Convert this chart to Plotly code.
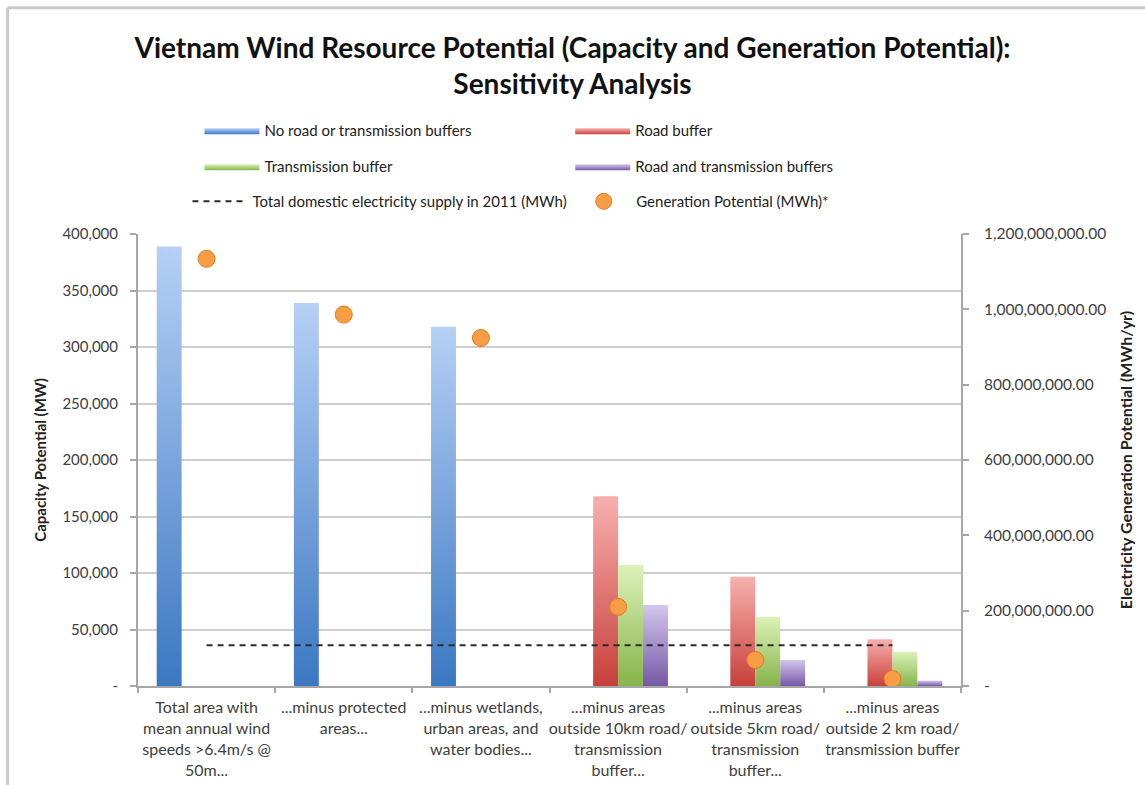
import plotly.graph_objects as go

# ---- data ---------------------------------------------------------------
categories = [
    "Total area with<br>mean annual wind<br>speeds >6.4m/s @<br>50m...",
    "...minus protected<br>areas...",
    "...minus wetlands,<br>urban areas, and<br>water bodies...",
    "...minus areas<br>outside 10km road/<br>transmission<br>buffer...",
    "...minus areas<br>outside 5km road/<br>transmission<br>buffer...",
    "...minus areas<br>outside 2 km road/<br>transmission buffer",
]

no_buffer_mw = [389000, 339000, 318000, None, None, None]
road_buffer_mw = [None, None, None, 168000, 96600, 41300]
transmission_buffer_mw = [None, None, None, 107000, 61300, 30300]
road_and_trans_mw = [None, None, None, 71600, 23000, 4700]

generation_mwh = [1.134e9, 9.86e8, 9.24e8, 2.10e8, 6.9e7, 1.86e7]
domestic_supply_2011_mwh = [1.08e8] * 6

left_ticks = [0, 50000, 100000, 150000, 200000, 250000, 300000, 350000, 400000]
left_ticktext = ["-", "50,000", "100,000", "150,000", "200,000", "250,000",
                 "300,000", "350,000", "400,000"]
right_ticks = [0, 2e8, 4e8, 6e8, 8e8, 1e9, 1.2e9]
right_ticktext = ["-", "200,000,000.00", "400,000,000.00", "600,000,000.00",
                  "800,000,000.00", "1,000,000,000.00", "1,200,000,000.00"]

# ---- styling --------------------------------------------------------------
FONT = "Lato"
TXT = "#404040"
AXIS = "#a6a6a6"

# plot-area geometry in pixels (used to place legends / frame in paper units)
PL, PR, PT, PB = 137.5, 961.0, 233.5, 686.0
PW, PH = PR - PL, PB - PT


def px_x(px):
    return (px - PL) / PW


def px_y(py):
    return (PB - py) / PH


series = [
    ("No road or transmission buffers", no_buffer_mw, "#3b78c2", "#b6d0f6", "legend"),
    ("Road buffer", road_buffer_mw, "#c8403b", "#f7b0ae", "legend2"),
    ("Transmission buffer", transmission_buffer_mw, "#86b44a", "#dcf2b8", "legend3"),
    ("Road and transmission buffers", road_and_trans_mw, "#7558a6", "#d3c6ec", "legend4"),
]
n_series = len(series)
bar_w = 1 / 5.5  # bar width in category units (gap = 1.5 bar widths)

fig = go.Figure()

centers = [i + 0.5 for i in range(len(categories))]

for s_idx, (name, vals, dark, light, leg) in enumerate(series):
    offset = (s_idx - (n_series - 1) / 2) * bar_w
    first = True
    for c, v in zip(centers, vals):
        if v is None:
            continue
        x0 = c + offset - bar_w / 2
        x1 = c + offset + bar_w / 2
        fig.add_trace(go.Scatter(
            x=[x0, x1, x1, x0, x0], y=[0, 0, v, v, 0],
            mode="lines", line=dict(width=0, color=dark),
            fill="toself",
            fillgradient=dict(type="vertical",
                              colorscale=[[0, dark], [1, light]]),
            name=name, legendgroup=name, showlegend=first, legend=leg,
            hoverinfo="skip",
        ))
        first = False

fig.add_trace(go.Scatter(
    x=centers, y=domestic_supply_2011_mwh, yaxis="y2",
    mode="lines", line=dict(color="#2b2b2b", width=2, dash="6px,5px"),
    name="Total domestic electricity supply in 2011 (MWh)", legend="legend5",
))
fig.add_trace(go.Scatter(
    x=centers, y=generation_mwh, yaxis="y2",
    mode="markers",
    marker=dict(size=17, color="#f79d45",
                line=dict(color="#e27c1e", width=1)),
    name="Generation Potential (MWh)*", legend="legend6",
))

# chart-area frame
frame = dict(color="#c9c9c9", width=3)
shapes = [
    dict(type="line", xref="paper", yref="paper", x0=px_x(7), x1=px_x(1150),
         y0=px_y(7), y1=px_y(7), line=frame),
    dict(type="line", xref="paper", yref="paper", x0=px_x(7), x1=px_x(7),
         y0=px_y(7), y1=px_y(790), line=frame),
]


def legend_at(x_px, y_px):
    return dict(orientation="h", x=px_x(x_px), y=px_y(y_px),
                xanchor="left", yanchor="middle",
                font=dict(family=FONT, size=15, color="#222"),
                itemwidth=55, bgcolor="rgba(0,0,0,0)")


fig.update_layout(
    width=1145, height=785,
    margin=dict(l=PL, r=1145 - PR, t=PT, b=785 - PB),
    paper_bgcolor="white", plot_bgcolor="white",
    font=dict(family=FONT, color=TXT),
    title=dict(
        text="<b>Vietnam Wind Resource Potential (Capacity and Generation Potential):<br>Sensitivity Analysis</b>",
        x=0.5, xanchor="center", y=1 - 58 / 785, yanchor="middle",
        font=dict(family=FONT, size=28, color="#111"),
    ),
    legend=legend_at(199, 130),
    legend2=legend_at(570, 130),
    legend3=legend_at(199, 166),
    legend4=legend_at(570, 166),
    legend5=legend_at(187, 201),
    legend6=legend_at(571, 201),
    xaxis=dict(
        range=[0, len(categories)], tickmode="array", tickvals=centers,
        ticktext=categories, ticks="", showgrid=False, zeroline=False,
        showline=True, linecolor=AXIS, linewidth=2, ticklabelstandoff=6,
        automargin=False,
        tickfont=dict(family=FONT, size=16, color=TXT),
        minor=dict(tickmode="array", tickvals=list(range(len(categories) + 1)),
                   ticks="outside", ticklen=5, tickcolor=AXIS, tickwidth=2,
                   showgrid=False),
        fixedrange=True,
    ),
    yaxis=dict(
        range=[0, 400000], tickmode="array", tickvals=left_ticks,
        ticktext=left_ticktext, ticks="outside", ticklen=6,
        tickcolor=AXIS, tickwidth=2, showline=True, ticklabelstandoff=9,
        linecolor=AXIS, linewidth=2, gridcolor="#cfcfcf", gridwidth=2,
        zeroline=False, automargin=False,
        tickfont=dict(family=FONT, size=15, color=TXT),
        title=dict(text="<b>Capacity Potential (MW)</b>",
                   font=dict(family=FONT, size=15, color="#222"), standoff=12),
    ),
    yaxis2=dict(
        range=[0, 1.2e9], overlaying="y", side="right", tickmode="array",
        tickvals=right_ticks, ticktext=right_ticktext, ticks="outside",
        ticklen=6, tickcolor=AXIS, tickwidth=2, showline=True,
        linecolor=AXIS, linewidth=2, showgrid=False, zeroline=False,
        ticklabelstandoff=12, automargin=False,
        tickfont=dict(family=FONT, size=15.5, color=TXT),
        title=dict(text="<b>Electricity Generation Potential (MWh/yr)</b>",
                   font=dict(family=FONT, size=16, color="#222"), standoff=16),
    ),
    shapes=shapes,
    showlegend=True,
)

fig.write_html("out.html")
